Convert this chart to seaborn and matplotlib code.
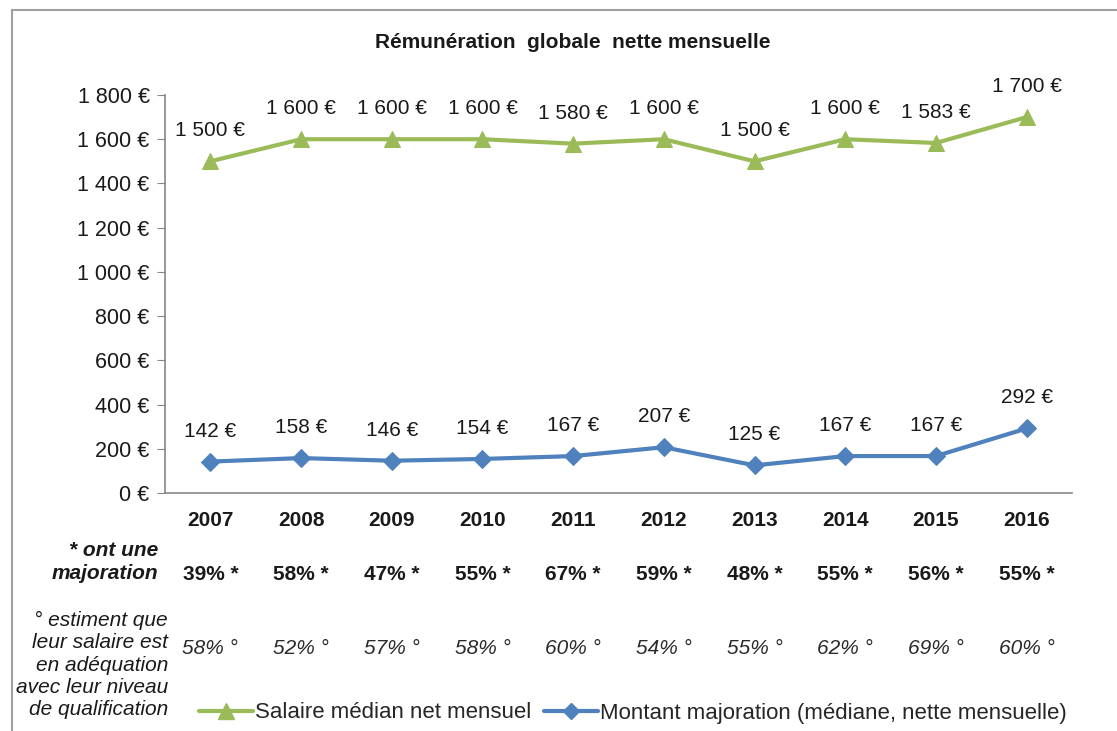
import matplotlib.pyplot as plt
import pandas as pd
import seaborn as sns
from matplotlib.lines import Line2D
from matplotlib.patches import Rectangle
from matplotlib.ticker import FuncFormatter, FixedLocator
from matplotlib.transforms import blended_transform_factory

# Data
years = ['2007', '2008', '2009', '2010', '2011', '2012', '2013', '2014', '2015', '2016']
salaire = [1500, 1600, 1600, 1600, 1580, 1600, 1500, 1600, 1583, 1700]
majoration = [142, 158, 146, 154, 167, 207, 125, 167, 167, 292]
pct_majoration = [39, 58, 47, 55, 67, 59, 48, 55, 56, 55]
pct_adequation = [58, 52, 57, 58, 60, 54, 55, 62, 69, 60]

green = '#9BBB59'
blue = '#4F81BD'

sns.set_style("white")
plt.rcParams['font.family'] = ['Liberation Sans', 'DejaVu Sans']

W, H = 1117, 731
fig = plt.figure(figsize=(W / 100, H / 100), dpi=100)
ax = fig.add_axes([165 / W, 1 - 493 / H, 907 / W, 398 / H])

df = pd.DataFrame({'x': range(len(years)), 'salaire': salaire, 'majoration': majoration})
sns.lineplot(data=df, x='x', y='salaire', ax=ax, color=green, linewidth=3,
             marker='^', markersize=12, markeredgecolor=green)
sns.lineplot(data=df, x='x', y='majoration', ax=ax, color=blue, linewidth=3,
             marker='D', markersize=9, markeredgecolor=blue)

def euro(v, pos=None):
    return f"{int(v):,} €".replace(',', ' ')

for i in range(len(years)):
    ax.annotate(euro(salaire[i]), (i, salaire[i]), xytext=(0, 22), textcoords='offset points',
                ha='center', va='center', fontsize=15, color='#1a1a1a')
    ax.annotate(euro(majoration[i]), (i, majoration[i]), xytext=(0, 22), textcoords='offset points',
                ha='center', va='center', fontsize=15, color='#1a1a1a')

ax.set_xlim(-0.5, len(years) - 0.5)
ax.set_ylim(0, 1800)
ax.set_yticks(range(0, 1801, 200))
ax.yaxis.set_major_formatter(FuncFormatter(euro))
ax.set_xticks(range(len(years)))
ax.set_xticklabels(years, fontweight='bold', fontsize=15)
ax.xaxis.set_minor_locator(FixedLocator([i - 0.5 for i in range(len(years) + 1)]))
ax.tick_params(axis='x', which='major', length=0, pad=13, colors='#1a1a1a')
ax.tick_params(axis='x', which='minor', length=6, color='#868686', direction='out')
ax.tick_params(axis='y', length=6, color='#868686', direction='out', labelsize=15.5,
               pad=5, labelcolor='#1a1a1a', left=True)
ax.set_xlabel('')
ax.set_ylabel('')
for s in ['top', 'right']:
    ax.spines[s].set_visible(False)
for s in ['left', 'bottom']:
    ax.spines[s].set_color('#868686')
    ax.spines[s].set_linewidth(1.2)

fig.text(573 / W, 1 - 42 / H, 'Rémunération  globale  nette mensuelle', ha='center', va='center',
         fontsize=15, fontweight='bold', color='#1a1a1a')

# table rows under the axis
tr = blended_transform_factory(ax.transData, fig.transFigure)
for i in range(len(years)):
    ax.text(i, 1 - 574 / H, f"{pct_majoration[i]}% *", transform=tr, ha='center', va='center',
            fontsize=15, fontweight='bold', color='#1a1a1a')
    ax.text(i, 1 - 648 / H, f"{pct_adequation[i]}% °", transform=tr, ha='center', va='center',
            fontsize=15, style='italic', color='#2a2a2a')

fig.text(158 / W, 1 - 562 / H, '* ont une\nmajoration', ha='right', va='center', fontsize=15,
         fontweight='bold', style='italic', color='#1a1a1a', linespacing=1.25)
fig.text(168 / W, 1 - 665 / H,
         '° estiment que\nleur salaire est\nen adéquation\navec leur niveau\nde qualification',
         ha='right', va='center', fontsize=15, style='italic', color='#1a1a1a', linespacing=1.22)

handles = [Line2D([], [], color=green, lw=3, marker='^', markersize=11),
           Line2D([], [], color=blue, lw=3, marker='D', markersize=8)]
fig.legend(handles, ['Salaire médian net mensuel', 'Montant majoration (médiane, nette mensuelle)'],
           loc='center', bbox_to_anchor=(633 / W, 1 - 713 / H), ncol=2, frameon=False,
           fontsize=16, handlelength=2.4, handletextpad=0.1, columnspacing=0.6)

fig.patches.append(Rectangle((12 / W, -0.1), 1.2, 1.1 - 10 / H, transform=fig.transFigure,
                             fill=False, edgecolor='#A0A0A0', linewidth=1.5))

fig.savefig('out.png', dpi=100)
